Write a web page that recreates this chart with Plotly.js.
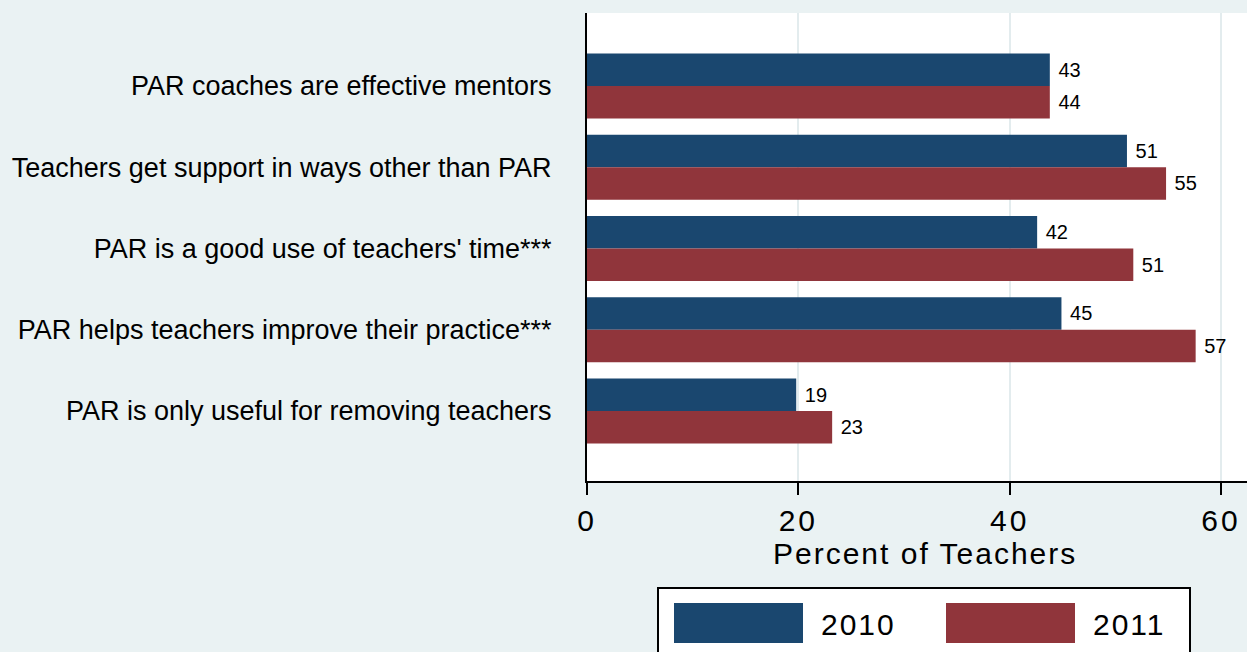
<!DOCTYPE html>
<html>
<head>
<meta charset="utf-8">
<script src="https://cdn.plot.ly/plotly-3.0.1.min.js"></script>
<style>
html,body{margin:0;padding:0;background:#eaf2f3;}
#chart{width:1247px;height:652px;}
#chart g.xtick text{letter-spacing:3px;}
#chart text.annotation-text{letter-spacing:2px;}
</style>
</head>
<body>
<div id="chart"></div>
<script>
// ---- data ----
var categories = [
  "PAR coaches are effective mentors",
  "Teachers get support in ways other than PAR",
  "PAR is a good use of teachers' time***",
  "PAR helps teachers improve their practice***",
  "PAR is only useful for removing teachers"
];
var values2010 = [43.8, 51.1, 42.6, 44.9, 19.8];
var values2011 = [43.8, 54.8, 51.7, 57.6, 23.2];
var labels2010 = ["43", "51", "42", "45", "19"];
var labels2011 = ["44", "55", "51", "57", "23"];
var seriesNames = ["2010", "2011"];
var xTicks = [0, 20, 40, 60];
var xTitle = "Percent of Teachers";

// ---- style ----
var BG = "#eaf2f3";
var NAVY = "#1a476f";
var MAROON = "#90353b";
var FONT = "Liberation Sans, Arial, sans-serif";

var W = 1247, H = 652;
var M = {l: 587, r: 0, t: 13, b: 171};
var PW = W - M.l - M.r, PH = H - M.t - M.b;
function px(x) { return (x - M.l) / PW; }
function py(y) { return (H - M.b - y) / PH; }

function pad(arr) { return arr.map(function (s) { return "\u00a0" + s; }); }

var traces = [
  {type: "bar", orientation: "h", name: seriesNames[0], y: categories, x: values2010,
   text: pad(labels2010), textposition: "outside", constraintext: "none", cliponaxis: false,
   textfont: {family: FONT, size: 20, color: "#000"},
   marker: {color: NAVY, line: {width: 0}}, hoverinfo: "skip"},
  {type: "bar", orientation: "h", name: seriesNames[1], y: categories, x: values2011,
   text: pad(labels2011), textposition: "outside", constraintext: "none", cliponaxis: false,
   textfont: {family: FONT, size: 20, color: "#000"},
   marker: {color: MAROON, line: {width: 0}}, hoverinfo: "skip"}
];

var shapes = [
  {type: "rect", xref: "paper", yref: "paper", x0: px(658), x1: px(1190), y0: py(670), y1: py(588),
   fillcolor: "#ffffff", line: {color: "#000", width: 2}},
  {type: "rect", xref: "paper", yref: "paper", x0: px(674), x1: px(803), y0: py(643), y1: py(603),
   fillcolor: NAVY, line: {width: 0}},
  {type: "rect", xref: "paper", yref: "paper", x0: px(946), x1: px(1075), y0: py(643), y1: py(603),
   fillcolor: MAROON, line: {width: 0}}
];

var annotations = [
  {xref: "paper", yref: "paper", x: px(858), y: py(624), text: seriesNames[0], showarrow: false,
   xanchor: "center", yanchor: "middle", font: {family: FONT, size: 30, color: "#000"}},
  {xref: "paper", yref: "paper", x: px(1129), y: py(624), text: seriesNames[1], showarrow: false,
   xanchor: "center", yanchor: "middle", font: {family: FONT, size: 30, color: "#000"}},
  {xref: "paper", yref: "paper", x: px(925), y: py(553), text: xTitle, showarrow: false,
   xanchor: "center", yanchor: "middle", font: {family: FONT, size: 30, color: "#000"}}
];

var layout = {
  width: W, height: H,
  margin: M,
  paper_bgcolor: BG,
  plot_bgcolor: "#ffffff",
  barmode: "group",
  bargap: 0.2,
  bargroupgap: 0,
  showlegend: false,
  font: {family: FONT, color: "#000"},
  xaxis: {
    range: [0, 62.46],
    tickvals: xTicks,
    ticktext: xTicks.map(String),
    ticks: "outside", ticklen: 12, tickwidth: 2, tickcolor: "#000",
    tickfont: {family: FONT, size: 30, color: "#000"},
    showline: true, linecolor: "#000", linewidth: 2,
    showgrid: true, gridcolor: "#e3ecee", gridwidth: 2,
    zeroline: false,
    fixedrange: true
  },
  yaxis: {
    type: "category",
    categoryorder: "array", categoryarray: categories,
    range: [4.862, -0.898],
    ticks: "", showline: true, linecolor: "#000", linewidth: 2,
    showgrid: false, zeroline: false,
    ticklabelstandoff: 28,
    tickfont: {family: FONT, size: 27, color: "#000"},
    fixedrange: true
  },
  shapes: shapes,
  annotations: annotations
};

Plotly.newPlot("chart", traces, layout, {displayModeBar: false, staticPlot: true});
</script>
</body>
</html>
